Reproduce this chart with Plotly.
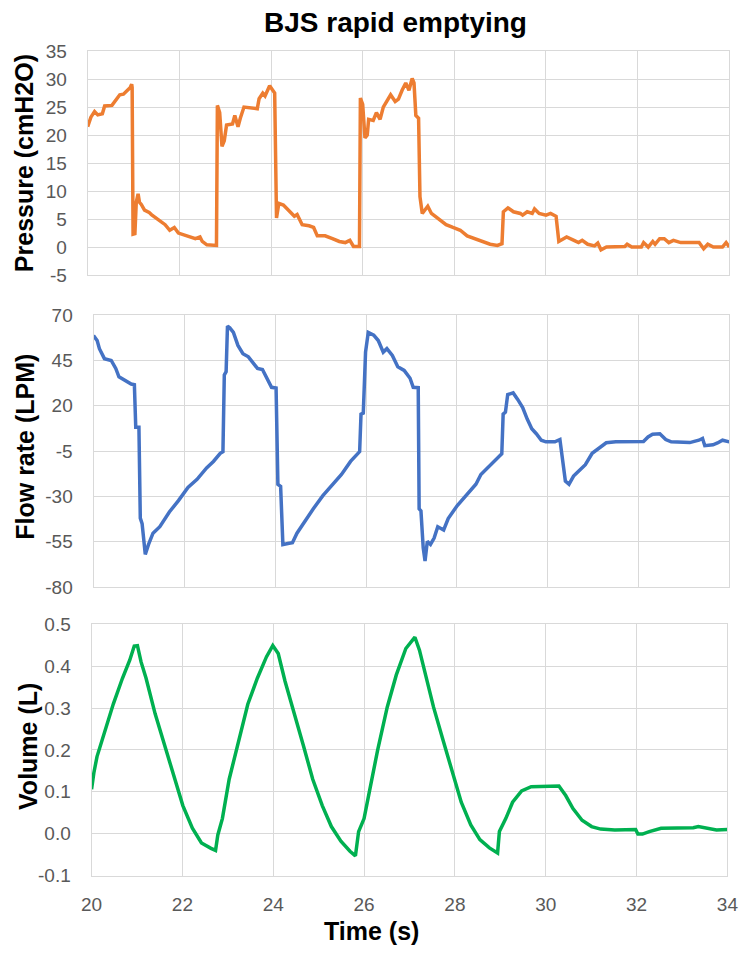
import plotly.graph_objects as go

# ---------------- data ----------------
p_time = [20.00, 20.07, 20.15, 20.22, 20.32, 20.37, 20.53, 20.60, 20.70, 20.78, 20.86, 20.93, 20.96, 20.97,
          20.99, 21.03, 21.06, 21.10, 21.13, 21.17, 21.24, 21.34, 21.39, 21.49, 21.59, 21.69, 21.79, 21.89,
          21.98, 22.15, 22.35, 22.45, 22.50, 22.60, 22.81, 22.83, 22.88, 22.93, 22.98, 23.03, 23.16, 23.21,
          23.28, 23.33, 23.41, 23.70, 23.74, 23.82, 23.87, 23.97, 24.04, 24.08, 24.12, 24.17, 24.27, 24.40,
          24.51, 24.57, 24.68, 24.83, 24.93, 25.01, 25.18, 25.34, 25.49, 25.62, 25.72, 25.80, 25.93, 25.95,
          26.00, 26.05, 26.10, 26.13, 26.23, 26.30, 26.38, 26.45, 26.53, 26.61, 26.71, 26.78, 26.86, 26.94,
          27.01, 27.08, 27.12, 27.16, 27.22, 27.25, 27.30, 27.42, 27.50, 27.67, 27.82, 27.97, 28.13, 28.28,
          28.43, 28.58, 28.78, 28.94, 29.04, 29.07, 29.17, 29.29, 29.44, 29.49, 29.59, 29.70, 29.75, 29.85,
          30.00, 30.10, 30.22, 30.28, 30.45, 30.61, 30.71, 30.79, 30.91, 31.06, 31.13, 31.20, 31.32, 31.72,
          31.77, 31.87, 32.08, 32.13, 32.23, 32.33, 32.38, 32.48, 32.58, 32.68, 32.78, 32.94, 33.34, 33.44,
          33.53, 33.65, 33.85, 33.93, 34.00]
pressure = [21.5, 23.2, 24.2, 23.6, 23.8, 25.2, 25.3, 26.0, 27.2, 27.3, 28.0, 28.5, 29.1, 28.5,
            2.3, 2.4, 8.0, 9.5, 8.0, 7.6, 6.6, 6.2, 5.8, 5.2, 4.6, 4.0, 3.0, 3.5,
            2.5, 2.0, 1.5, 1.8, 1.0, 0.4, 0.3, 25.3, 24.0, 18.0, 19.0, 21.8, 22.0, 23.5,
            21.5, 23.0, 25.0, 24.7, 26.5, 27.5, 27.0, 28.8, 27.8, 27.5, 5.2, 7.8, 7.5, 6.5,
            5.5, 5.8, 4.0, 3.8, 3.5, 2.0, 2.0, 1.5, 1.0, 0.8, 1.2, 0.1, 0.1, 26.6,
            25.5, 19.5, 20.0, 22.8, 22.6, 24.0, 22.8, 25.0, 26.0, 27.2, 26.0, 26.4, 28.0, 29.3,
            28.0, 30.1, 29.3, 23.5, 23.0, 9.0, 6.0, 7.3, 6.0, 5.0, 4.0, 3.5, 3.0, 2.0,
            1.5, 1.0, 0.5, 0.3, 0.6, 6.3, 7.0, 6.3, 6.0, 5.7, 6.3, 6.0, 6.8, 6.0,
            5.7, 6.0, 5.5, 1.0, 1.8, 1.2, 0.8, 1.2, 0.5, 0.2, 0.7, -0.5, 0.0, 0.1,
            0.5, 0.0, 0.0, 0.8, 0.0, 1.0, 0.5, 1.5, 1.5, 0.8, 1.2, 0.8, 0.8, -0.3,
            0.5, 0.0, 0.0, 0.8, 0.0]

f_time = [20.00, 20.08, 20.13, 20.24, 20.39, 20.49, 20.56, 20.70, 20.83, 20.90, 20.93, 21.00, 21.03, 21.07,
          21.14, 21.21, 21.31, 21.46, 21.67, 21.87, 22.08, 22.28, 22.49, 22.64, 22.79, 22.85, 22.88, 22.92,
          22.95, 23.00, 23.08, 23.18, 23.29, 23.41, 23.51, 23.61, 23.72, 23.82, 23.92, 24.02, 24.06, 24.12,
          24.17, 24.28, 24.38, 24.48, 24.64, 24.84, 25.05, 25.25, 25.46, 25.66, 25.86, 25.89, 25.94, 25.99,
          26.05, 26.17, 26.27, 26.38, 26.46, 26.58, 26.70, 26.84, 26.97, 27.04, 27.15, 27.17, 27.21, 27.26,
          27.30, 27.35, 27.42, 27.50, 27.58, 27.71, 27.81, 28.01, 28.22, 28.42, 28.53, 28.68, 28.83, 28.99,
          29.02, 29.07, 29.12, 29.24, 29.34, 29.45, 29.55, 29.65, 29.75, 29.86, 29.96, 30.16, 30.27, 30.32,
          30.39, 30.47, 30.57, 30.68, 30.83, 30.98, 31.14, 31.29, 31.50, 32.11, 32.21, 32.31, 32.47, 32.60,
          32.72, 33.13, 33.33, 33.41, 33.46, 33.64, 33.74, 33.85, 34.00]
flow = [58.7, 56.0, 51.5, 46.0, 45.0, 40.6, 36.0, 33.8, 32.0, 31.6, 8.2, 8.2, -42.0, -45.0,
        -62.0, -56.6, -50.3, -46.7, -38.6, -32.3, -25.0, -20.6, -14.3, -10.7, -6.2, -5.3, 37.0, 38.8,
        64.0, 63.0, 60.5, 53.3, 48.7, 47.0, 44.0, 40.6, 40.0, 35.2, 30.2, 29.8, -23.3, -24.5,
        -56.6, -56.0, -55.5, -50.3, -44.0, -36.8, -29.6, -24.2, -17.9, -10.7, -5.3, 15.4, 16.0, 49.6,
        60.5, 59.0, 56.0, 49.6, 51.5, 47.8, 41.5, 39.5, 35.2, 30.2, 30.0, -36.8, -38.0, -58.4,
        -65.6, -54.8, -56.5, -53.0, -46.7, -48.5, -42.2, -35.0, -28.7, -23.3, -17.9, -14.3, -10.7, -6.5,
        15.4, 16.5, 26.2, 27.1, 23.5, 19.0, 12.7, 7.3, 4.6, 1.0, 0.1, 0.1, 1.4, -8.0,
        -21.5, -23.3, -18.8, -16.1, -12.5, -6.2, -3.5, -0.4, 0.1, 0.3, 2.8, 4.3, 4.6, 1.4,
        0.1, -0.3, 1.0, 2.0, -2.0, -1.5, -0.5, 1.0, 0.1]

v_time = [20.00, 20.05, 20.12, 20.28, 20.48, 20.68, 20.84, 20.94, 21.01, 21.09, 21.20, 21.40, 21.60, 21.81,
          22.01, 22.22, 22.42, 22.63, 22.73, 22.78, 22.88, 23.03, 23.24, 23.44, 23.65, 23.85, 23.99, 24.11,
          24.26, 24.47, 24.67, 24.87, 25.08, 25.28, 25.49, 25.69, 25.81, 25.88, 26.00, 26.10, 26.30, 26.51,
          26.71, 26.92, 27.12, 27.22, 27.38, 27.53, 27.74, 27.94, 28.14, 28.35, 28.55, 28.76, 28.94, 28.98,
          29.12, 29.27, 29.47, 29.68, 29.98, 30.29, 30.44, 30.60, 30.80, 31.01, 31.21, 31.52, 31.98, 32.03,
          32.13, 32.28, 32.54, 32.95, 33.25, 33.36, 33.56, 33.76, 34.00]
volume = [0.106, 0.145, 0.184, 0.239, 0.310, 0.371, 0.414, 0.448, 0.449, 0.410, 0.371, 0.286, 0.216, 0.138,
          0.067, 0.013, -0.022, -0.035, -0.040, -0.003, 0.036, 0.130, 0.223, 0.309, 0.371, 0.422, 0.449, 0.430,
          0.364, 0.286, 0.208, 0.130, 0.067, 0.017, -0.018, -0.042, -0.053, 0.005, 0.036, 0.091, 0.200, 0.302,
          0.379, 0.442, 0.469, 0.438, 0.371, 0.302, 0.223, 0.146, 0.075, 0.021, -0.014, -0.034, -0.046, 0.005,
          0.036, 0.075, 0.102, 0.112, 0.114, 0.114, 0.091, 0.060, 0.032, 0.017, 0.011, 0.009, 0.010, -0.001,
          -0.001, 0.005, 0.013, 0.014, 0.014, 0.017, 0.012, 0.009, 0.010]

x_ticks = [20, 22, 24, 26, 28, 30, 32, 34]
p_ticks = [-5, 0, 5, 10, 15, 20, 25, 30, 35]
p_tick_text = ["-5", "0", "5", "10", "15", "20", "25", "30", "35"]
f_ticks = [-80, -55, -30, -5, 20, 45, 70]
f_tick_text = ["-80", "-55", "-30", "-5", "20", "45", "70"]
v_ticks = [-0.1, 0.0, 0.1, 0.2, 0.3, 0.4, 0.5]
v_tick_text = ["-0.1", "0.0", "0.1", "0.2", "0.3", "0.4", "0.5"]

title = "BJS rapid emptying"
p_label = "Pressure (cmH2O)"
f_label = "Flow rate (LPM)"
v_label = "Volume (L)"
x_label = "Time (s)"

# ---------------- figure ----------------
W, H = 751, 957
FONT = "Liberation Sans, Arial, sans-serif"
GRID = "#d9d9d9"
TICKC = "#595959"

fig = go.Figure()
fig.add_trace(go.Scatter(x=p_time, y=pressure, mode="lines", xaxis="x", yaxis="y",
                         line=dict(color="#ED7D31", width=3.5), showlegend=False))
fig.add_trace(go.Scatter(x=f_time, y=flow, mode="lines", xaxis="x2", yaxis="y2",
                         line=dict(color="#4472C4", width=3.5), showlegend=False))
fig.add_trace(go.Scatter(x=v_time, y=volume, mode="lines", xaxis="x3", yaxis="y3",
                         line=dict(color="#00B050", width=3.5), showlegend=False))


def xax(domain, anchor, labels):
    return dict(domain=domain, anchor=anchor, range=[20, 34], tickvals=x_ticks,
                showticklabels=labels, showgrid=True, gridcolor=GRID, gridwidth=1,
                showline=True, linecolor=GRID, linewidth=1, mirror=True, zeroline=False,
                ticks="", ticklabelstandoff=12,
                tickfont=dict(family=FONT, size=19, color=TICKC))


def yax(domain, anchor, rng, vals, text):
    return dict(domain=domain, anchor=anchor, range=rng, tickvals=vals, ticktext=text,
                showgrid=True, gridcolor=GRID, gridwidth=1,
                showline=True, linecolor=GRID, linewidth=1, mirror=True, zeroline=False,
                ticks="", ticklabelstandoff=16,
                tickfont=dict(family=FONT, size=19, color=TICKC))


def py(px):
    return 1 - px / H


fig.update_layout(
    width=W, height=H, margin=dict(l=0, r=0, t=0, b=0),
    paper_bgcolor="white", plot_bgcolor="white",
    xaxis=xax([79 / W, 740 / W], "y", False),
    yaxis=yax([py(271), py(42)], "x", [-5, 35], p_ticks, p_tick_text),
    xaxis2=xax([85 / W, 740 / W], "y2", False),
    yaxis2=yax([py(590), py(312)], "x2", [-80, 70], f_ticks, f_tick_text),
    xaxis3=xax([83 / W, 738 / W], "y3", True),
    yaxis3=yax([py(885), py(628)], "x3", [-0.1, 0.5], v_ticks, v_tick_text),
)

ann = [
    dict(text="<b>%s</b>" % title, x=396 / W, y=py(13), font=dict(size=28)),
    dict(text="<b>%s</b>" % x_label, x=371 / W, y=py(942), font=dict(size=25)),
    dict(text="<b>%s</b>" % p_label, x=13 / W, y=py(157), textangle=-90, font=dict(size=25)),
    dict(text="<b>%s</b>" % f_label, x=15 / W, y=py(447), textangle=-90, font=dict(size=25)),
    dict(text="<b>%s</b>" % v_label, x=18 / W, y=py(753), textangle=-90, font=dict(size=25)),
]
for a in ann:
    a.update(xref="paper", yref="paper", showarrow=False, xanchor="center", yanchor="middle")
    a["font"].update(family=FONT, color="black")
    fig.add_annotation(**a)

fig.write_html("out.html")
